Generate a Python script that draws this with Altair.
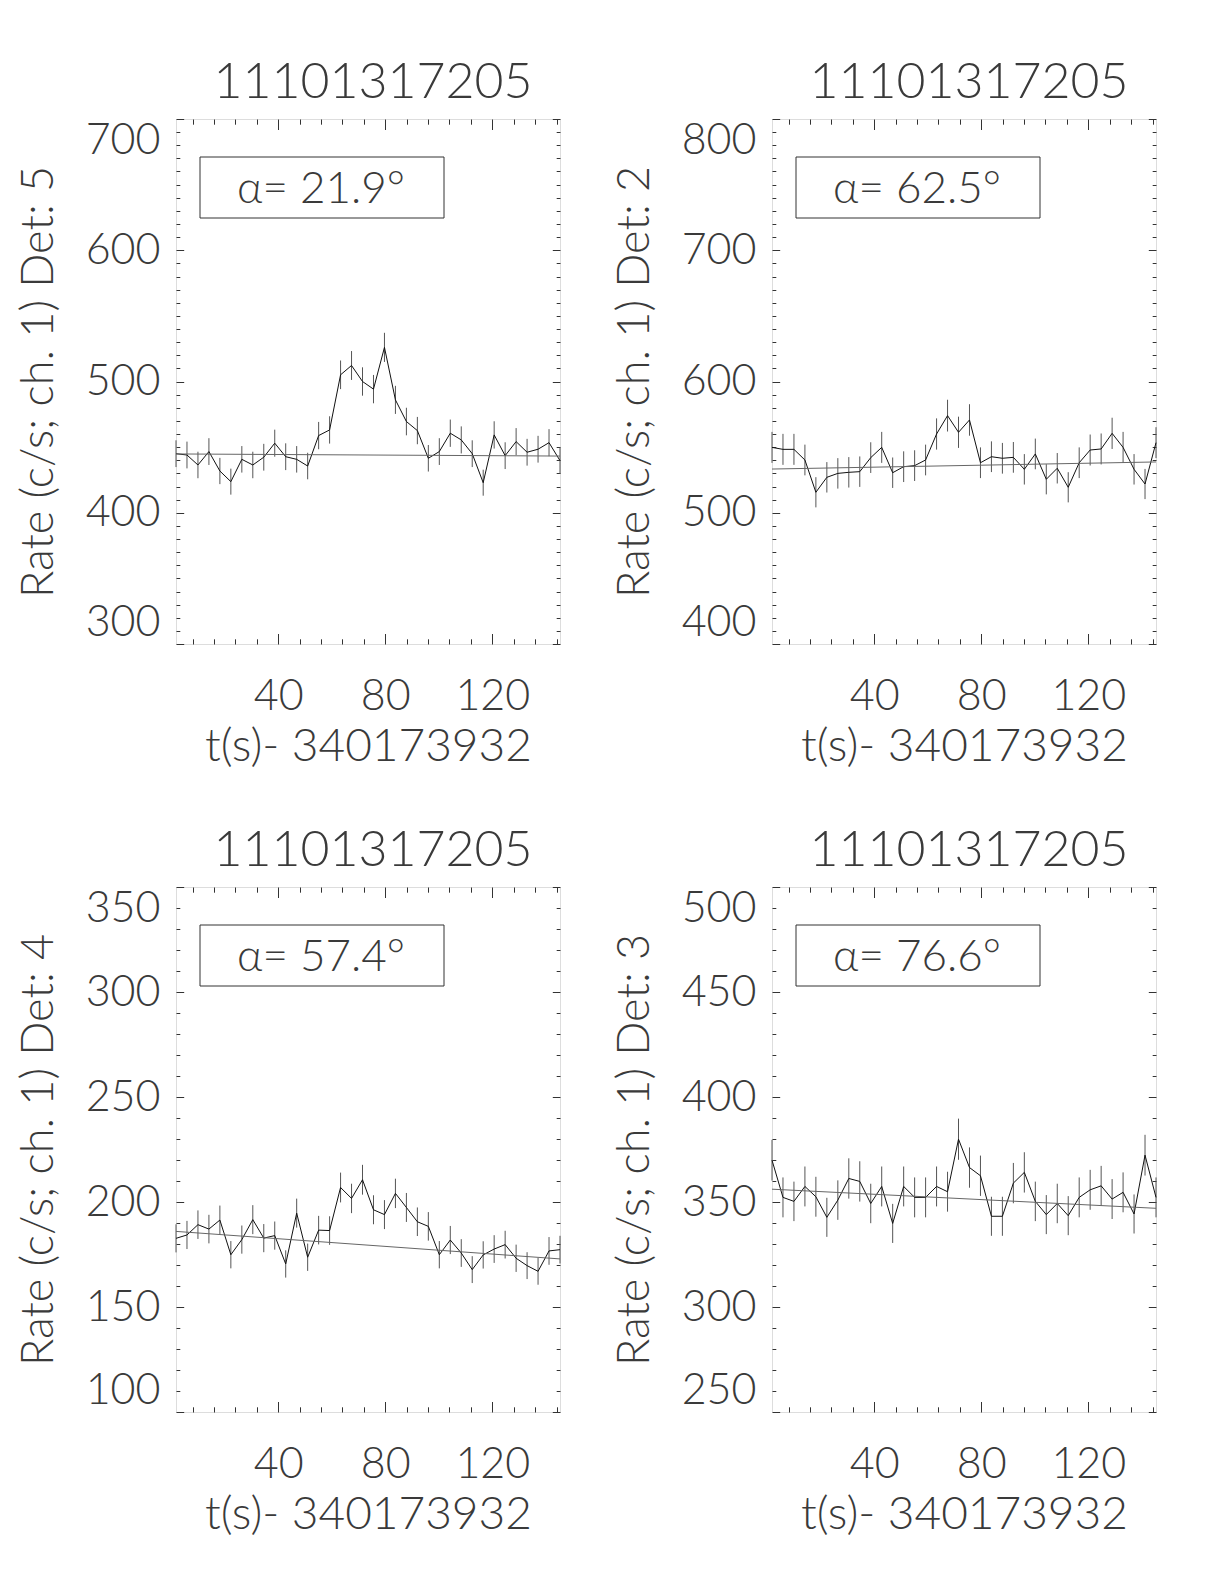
import altair as alt
import pandas as pd

# time bins (s, relative to 340173932)
t = [1.8, 5.9, 10.0, 14.1, 18.2, 22.3, 26.4, 30.5, 34.6, 38.7, 42.8, 46.9,
     51.0, 55.1, 59.2, 63.3, 67.4, 71.5, 75.6, 79.7, 83.8, 87.9, 92.0, 96.1,
     100.2, 104.3, 108.4, 112.5, 116.6, 120.7, 124.8, 128.9, 133.0, 137.1, 141.2, 145.3]

# Det 5
rate5 = [445.0, 444.0, 436.4, 446.6, 431.8, 423.7, 440.7, 436.4, 442.3, 453.0, 442.7, 440.7,
         435.6, 458.8, 463.1, 505.1, 512.2, 500.0, 494.2, 526.0, 486.0, 469.5, 462.6, 441.5,
         446.6, 460.6, 455.5, 445.0, 422.9, 459.3, 443.5, 454.2, 446.1, 448.4, 453.4, 439.7]
err5 = [10.2, 10.2, 10.1, 10.2, 10.0, 9.9, 10.1, 10.1, 10.2, 10.3, 10.2, 10.1,
        10.1, 10.4, 10.4, 10.9, 11.0, 10.8, 10.8, 11.1, 10.7, 10.5, 10.4, 10.1,
        10.2, 10.4, 10.3, 10.2, 9.9, 10.4, 10.2, 10.3, 10.2, 10.2, 10.3, 10.1]
fit5 = [444.8, 443.2]

# Det 2
rate2 = [549.8, 548.3, 548.3, 540.2, 515.6, 527.0, 530.0, 530.8, 531.3, 542.0, 549.8, 530.5,
         535.1, 535.9, 540.2, 560.0, 574.0, 561.3, 570.7, 538.1, 542.7, 541.5, 542.2, 533.1,
         544.8, 525.5, 533.9, 519.4, 538.1, 547.8, 548.6, 560.5, 549.8, 533.1, 521.9, 553.4]
err2 = [11.8, 11.8, 11.8, 11.7, 11.5, 11.6, 11.6, 11.6, 11.6, 11.7, 11.8, 11.6,
        11.7, 11.7, 11.7, 11.9, 12.1, 11.9, 12.0, 11.7, 11.7, 11.7, 11.7, 11.6,
        11.7, 11.5, 11.6, 11.5, 11.7, 11.8, 11.8, 11.9, 11.8, 11.6, 11.5, 11.8]
fit2 = [533.3, 538.7]

# Det 4
rate4 = [182.7, 184.3, 189.2, 187.1, 191.4, 174.9, 182.1, 191.6, 182.8, 184.0, 170.5, 194.7,
         173.7, 186.6, 186.4, 206.9, 201.7, 210.6, 196.3, 194.0, 204.1, 197.4, 190.6, 188.4,
         174.9, 181.9, 175.7, 167.8, 174.8, 177.6, 179.7, 173.2, 169.7, 167.0, 176.7, 177.3]
err4 = [6.7, 6.7, 6.8, 6.8, 6.9, 6.5, 6.7, 6.9, 6.7, 6.7, 6.5, 6.9,
        6.5, 6.8, 6.8, 7.1, 7.0, 7.1, 6.9, 6.9, 7.0, 6.9, 6.8, 6.8,
        6.5, 6.7, 6.6, 6.4, 6.5, 6.6, 6.6, 6.5, 6.4, 6.4, 6.6, 6.6]
fit4 = [186.0, 172.9]

# Det 3
rate3 = [369.9, 352.2, 350.3, 357.4, 352.5, 342.7, 350.9, 361.2, 359.8, 349.3, 357.4, 339.8,
         357.4, 352.2, 352.2, 357.4, 354.9, 379.9, 366.4, 362.5, 343.2, 343.2, 359.0, 364.1,
         350.3, 344.0, 349.3, 343.5, 352.2, 355.8, 357.7, 351.4, 354.6, 344.3, 372.3, 352.2]
err3 = [9.7, 9.5, 9.4, 9.5, 9.5, 9.3, 9.4, 9.6, 9.6, 9.4, 9.5, 9.3,
        9.5, 9.5, 9.5, 9.5, 9.5, 9.8, 9.6, 9.6, 9.3, 9.3, 9.6, 9.6,
        9.4, 9.3, 9.4, 9.3, 9.5, 9.5, 9.5, 9.5, 9.5, 9.3, 9.7, 9.5]
fit3 = [356.1, 347.0]

obsid = "11101317205"
xtitle = "t(s)- 340173932"
x_labels = [40, 80, 120]
x_ticks = [8, 16, 24, 32, 40, 48, 56, 64, 72, 80, 88, 96, 104, 112, 120, 128, 136, 144]

W, H = 384, 525
FONT = "Lato"
FW = 300
TXT = "#3a3a3a"


def panel(rate, err, fit, ylo, yhi, ymajor, det, alpha):
    df = pd.DataFrame({
        "t": t,
        "rate": rate,
        "lo": [r - e for r, e in zip(rate, err)],
        "hi": [r + e for r, e in zip(rate, err)],
    })
    fdf = pd.DataFrame({"t": [t[0], t[-1]], "fit": fit})
    xs = alt.Scale(domain=[t[0], t[-1]], nice=False, zero=False)
    ys = alt.Scale(domain=[ylo, yhi], nice=False, zero=False)
    y_all = list(range(ylo, yhi + 1, 10))
    y_major = list(range(ylo, yhi + 1, ymajor))
    ytick = {"condition": {"test": f"datum.value % {ymajor} === 0", "value": 7.7}, "value": 3.8}
    xtick = {"condition": {"test": "datum.value % 40 === 0", "value": 10.5}, "value": 5.2}

    tick_common = dict(labels=False, domain=False, grid=False, title=None,
                       tickColor="#333333", tickWidth=1)

    # label axes
    x_lab = alt.Axis(orient="bottom", values=x_labels, ticks=False, tickSize=0, domain=False,
                     grid=False, labelPadding=31, labelFont=FONT, labelFontSize=43,
                     labelFontWeight=FW, labelColor=TXT, title=xtitle, titleFont=FONT,
                     titleFontSize=46, titleFontWeight=FW, titleColor=TXT, titlePadding=6)
    y_lab = alt.Axis(orient="left", values=y_major, ticks=False, tickSize=0, domain=False,
                     grid=False, labelFlush=True, labelPadding=16, labelFont=FONT,
                     labelFontSize=43, labelFontWeight=FW, labelColor=TXT, format="d",
                     title=f"Rate (c/s; ch. 1) Det: {det}", titleFont=FONT, titleFontSize=45,
                     titleFontWeight=FW, titleColor=TXT, titlePadding=24)

    errbars = alt.Chart(df).mark_rule(color="#555555", strokeWidth=1).encode(
        x=alt.X("t:Q", scale=xs, axis=x_lab),
        y=alt.Y("lo:Q", scale=ys, axis=y_lab),
        y2="hi:Q",
    )
    line = alt.Chart(df).mark_line(color="#111111", strokeWidth=1).encode(
        x=alt.X("t:Q", scale=xs, axis=alt.Axis(orient="top", offset=-H, values=x_ticks,
                                                tickSize=xtick, **tick_common)),
        y=alt.Y("rate:Q", scale=ys, axis=alt.Axis(orient="right", offset=-W, values=y_all,
                                                   tickSize=ytick, **tick_common)),
    )
    fitl = alt.Chart(fdf).mark_line(color="#666666", strokeWidth=1).encode(
        x=alt.X("t:Q", scale=xs, axis=alt.Axis(orient="bottom", offset=-H, values=x_ticks,
                                                tickSize=xtick, **tick_common)),
        y=alt.Y("fit:Q", scale=ys, axis=alt.Axis(orient="left", offset=-W, values=y_all,
                                                  tickSize=ytick, **tick_common)),
    )
    box = alt.Chart(pd.DataFrame({"a": [alpha]})).mark_rect(
        fill="white", fillOpacity=0, stroke="#333333", strokeWidth=1
    ).encode(x=alt.value(24), x2=alt.value(268), y=alt.value(38), y2=alt.value(99))
    label = alt.Chart(pd.DataFrame({"a": [alpha]})).mark_text(
        align="left", baseline="alphabetic", font=FONT, fontSize=44, fontWeight=FW, color=TXT
    ).encode(x=alt.value(61), y=alt.value(84), text=alt.Text("a:N"))

    return alt.layer(errbars, line, fitl, box, label).resolve_axis(
        x="independent", y="independent"
    ).properties(
        width=W, height=H,
        title=alt.TitleParams(text=obsid, font=FONT, fontSize=50, fontWeight=FW, color=TXT,
                              anchor="middle", frame="group", offset=11, dx=5),
    )


p1 = panel(rate5, err5, fit5, 300, 700, 100, 5, "α=  21.9°")
p2 = panel(rate2, err2, fit2, 400, 800, 100, 2, "α=  62.5°")
p3 = panel(rate4, err4, fit4, 100, 350, 50, 4, "α=  57.4°")
p4 = panel(rate3, err3, fit3, 250, 500, 50, 3, "α=  76.6°")

chart = alt.vconcat(
    alt.hconcat(p1, p2, spacing=48),
    alt.hconcat(p3, p4, spacing=48),
    spacing=55,
).properties(
    padding={"left": 7, "top": 49, "right": 5, "bottom": 5},
).configure_view(
    stroke="#333333", strokeWidth=1
).configure(
    background="white"
)

chart.save("out.html", embed_options={"renderer": "svg", "actions": False})
